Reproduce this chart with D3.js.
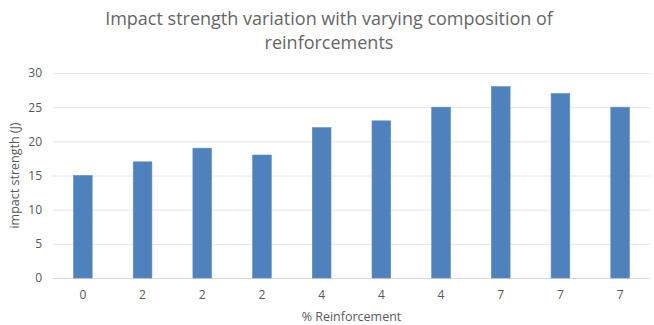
<!DOCTYPE html>
<html>
<head>
<meta charset="utf-8">
<script src="https://cdn.jsdelivr.net/npm/d3@7"></script>
<style>
  html, body { margin: 0; padding: 0; background: #fff; }
  svg { display: block; font-family: "Open Sans", "Liberation Sans", sans-serif; }
</style>
</head>
<body>
<svg id="chart" width="654" height="325"></svg>
<script>
// Impact strength for each specimen, labelled by % reinforcement
const categories = ["0", "2", "2", "2", "4", "4", "4", "7", "7", "7"];
const impactValues = [15, 17, 19, 18, 22, 23, 25, 28, 27, 25];
const yTicks = [0, 5, 10, 15, 20, 25, 30];
const titleLines = ["Impact strength variation with varying composition of", "reinforcements"];

const svg = d3.select("#chart");
const margin = { left: 53, right: 4, top: 73, bottom: 47 };
const W = 654, H = 325;

const x = d3.scaleBand()
  .domain(d3.range(categories.length))
  .range([margin.left, W - margin.right])
  .paddingInner(0.687)
  .paddingOuter(0.3435);

const y = d3.scaleLinear().domain([0, 30]).range([H - margin.bottom, margin.top]);

// Horizontal gridlines
svg.append("g")
  .selectAll("line")
  .data(yTicks)
  .join("line")
  .attr("x1", margin.left)
  .attr("x2", W - margin.right)
  .attr("y1", d => y(d) + 0.5)
  .attr("y2", d => y(d) + 0.5)
  .attr("stroke", d => d === 0 ? "#d9d9d9" : "#e6e6e6")
  .attr("stroke-width", 1);

// Y axis labels
const yAxis = d3.axisLeft(y).tickValues(yTicks).tickSize(0).tickPadding(0);
svg.append("g")
  .attr("transform", `translate(${margin.left - 11},0)`)
  .call(yAxis)
  .call(g => g.select(".domain").remove())
  .call(g => g.selectAll("text")
    .attr("fill", "#595959")
    .attr("font-size", 12)
    .attr("font-family", "Open Sans, sans-serif"));

// Bars
svg.append("g")
  .selectAll("rect")
  .data(impactValues)
  .join("rect")
  .attr("x", (d, i) => x(i))
  .attr("width", x.bandwidth())
  .attr("y", d => y(d))
  .attr("height", d => y(0) - y(d))
  .attr("fill", "#4f81bd")
  .attr("stroke", "#5b8cc6")
  .attr("stroke-width", 0.6);

// X axis labels
const xAxis = d3.axisBottom(x).tickFormat(i => categories[i]).tickSize(0).tickPadding(0);
svg.append("g")
  .attr("transform", `translate(0,${y(0) + 12})`)
  .call(xAxis)
  .call(g => g.select(".domain").remove())
  .call(g => g.selectAll("text")
    .attr("fill", "#595959")
    .attr("font-size", 12)
    .attr("font-family", "Open Sans, sans-serif"));

// Axis titles
svg.append("text")
  .attr("x", (margin.left + W - margin.right) / 2)
  .attr("y", 321)
  .attr("text-anchor", "middle")
  .attr("fill", "#595959")
  .attr("font-size", 12.5)
  .text("% Reinforcement");

svg.append("text")
  .attr("transform", `translate(19,${(y(0) + y(30)) / 2}) rotate(-90)`)
  .attr("text-anchor", "middle")
  .attr("fill", "#595959")
  .attr("font-size", 12.5)
  .text("impact strength (J)");

// Chart title
svg.append("g")
  .selectAll("text")
  .data(titleLines)
  .join("text")
  .attr("x", 329)
  .attr("y", (d, i) => 25 + i * 24)
  .attr("text-anchor", "middle")
  .attr("fill", "#666666")
  .attr("font-size", 18)
  .text(d => d);
</script>
</body>
</html>
